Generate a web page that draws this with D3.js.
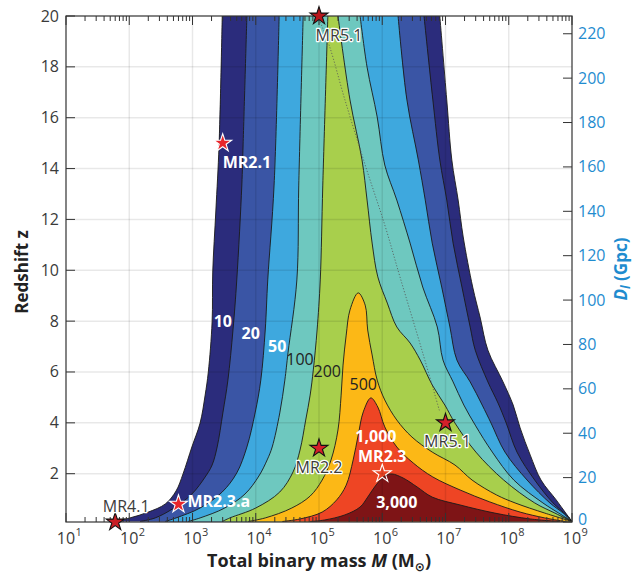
<!DOCTYPE html>
<html><head><meta charset="utf-8">
<script src="https://cdn.jsdelivr.net/npm/d3@7"></script>
<style>
body{margin:0;background:#fff;}
text{font-family:"Open Sans","Liberation Sans",sans-serif;}
</style></head>
<body><svg id="c" width="633" height="573"></svg>
<script>
// ---------- data ----------
const massDecades = [1,2,3,4,5,6,7,8,9];           // exponents of 10 (M in solar masses)
const zTicks = [2,4,6,8,10,12,14,16,18,20];
const dTicks = [0,20,40,60,80,100,120,140,160,180,200,220];
const levels = [10,20,50,100,200,500,1000,3000];
const levelColors = ["#2b2c7c","#3a55a5","#3ea8de","#6ec8bf","#a8cf4c","#fcb816","#ee4524","#7e1416"];

// contour boundaries as [log10 M, z]
const c10Left  = [[1.73,0.12],[2.01,0.26],[2.30,0.49],[2.57,0.81],[2.74,1.32],[2.85,1.99],[2.99,3.05],[3.12,3.99],[3.20,5.09],[3.25,6.00],[3.31,7.97],[3.32,9.93],[3.37,12.37],[3.42,14.93],[3.47,20]];
const c10Right = [[6.91,20],[7.02,16.70],[7.10,14.34],[7.20,12.76],[7.28,11.31],[7.43,9.34],[7.55,8.12],[7.67,6.86],[7.91,5.61],[8.07,4.70],[8.18,3.80],[8.34,2.73],[8.51,1.75],[8.75,0.97],[8.89,0.49],[9.00,0.12]];
const c20Left  = [[2.17,0.12],[2.41,0.26],[2.68,0.61],[2.99,1.20],[3.20,1.87],[3.31,2.34],[3.39,3.05],[3.48,4.39],[3.56,5.68],[3.64,7.65],[3.70,9.62],[3.78,13.35],[3.80,14.93],[3.86,20]];
const c20Right = [[6.66,20],[6.80,16.70],[6.91,14.34],[7.02,12.76],[7.12,11.07],[7.26,9.34],[7.39,7.77],[7.47,6.86],[7.67,5.61],[7.83,4.78],[7.96,3.99],[8.13,2.85],[8.41,1.75],[8.70,0.85],[8.91,0.38],[9.00,0.12]];
const c50Left  = [[2.57,0.12],[2.74,0.26],[3.12,0.65],[3.47,1.28],[3.70,2.03],[3.86,3.05],[3.99,4.39],[4.08,5.68],[4.15,7.65],[4.19,9.62],[4.29,13.35],[4.37,20]];
const c50Right = [[6.25,20],[6.39,16.70],[6.57,14.34],[6.68,12.76],[6.79,11.07],[6.94,9.34],[7.07,7.77],[7.18,6.47],[7.39,5.61],[7.58,4.70],[7.72,3.99],[7.94,2.85],[8.29,1.75],[8.65,0.85],[8.86,0.45],[9.00,0.12]];
const c100Left  = [[2.93,0.12],[3.12,0.26],[3.51,0.65],[3.83,1.20],[4.05,1.91],[4.18,2.54],[4.26,3.05],[4.38,4.39],[4.46,5.68],[4.51,6.75],[4.65,9.62],[4.68,13.35],[4.75,20]];
const c100Right = [[5.65,20],[5.76,17.99],[5.92,16.03],[6.04,14.14],[6.23,12.76],[6.44,11.07],[6.64,9.34],[6.87,7.77],[6.96,6.47],[7.12,5.61],[7.29,4.70],[7.47,3.91],[7.74,2.85],[8.08,1.75],[8.54,0.85],[8.79,0.45],[9.00,0.12]];
const c200Left  = [[3.47,0.12],[3.59,0.26],[4.00,0.65],[4.38,1.28],[4.59,2.07],[4.70,2.93],[4.79,4.11],[4.86,5.09],[4.91,6.08],[4.97,7.65],[5.02,9.62],[5.06,13.35],[5.14,20]];
const c200Right = [[5.30,20],[5.49,16.70],[5.68,14.34],[5.76,12.76],[5.84,11.07],[5.93,9.74],[6.08,8.71],[6.23,7.77],[6.44,7.14],[6.60,6.47],[6.79,5.49],[6.99,4.70],[7.15,3.99],[7.48,2.85],[7.92,1.75],[8.41,0.85],[8.73,0.45],[9.00,0.12]];
const c500  = [[3.88,0.12],[4.15,0.26],[4.57,0.65],[4.86,1.12],[5.05,1.75],[5.19,2.54],[5.30,3.72],[5.35,5.09],[5.38,6.27],[5.43,7.45],[5.49,8.44],[5.62,9.11],[5.73,8.63],[5.77,7.65],[5.84,6.67],[5.92,5.68],[6.04,4.90],[6.23,4.11],[6.47,3.44],[6.79,2.85],[7.15,2.34],[7.42,1.75],[7.81,1.16],[8.10,0.85],[8.57,0.45],[9.00,0.12]];
const c1000 = [[4.42,0.12],[4.70,0.22],[5.05,0.49],[5.28,0.97],[5.43,1.55],[5.54,2.54],[5.62,3.52],[5.70,4.43],[5.82,4.98],[5.93,4.62],[6.04,3.84],[6.23,3.05],[6.49,2.42],[6.80,1.87],[7.23,1.36],[7.70,0.89],[8.18,0.49],[8.57,0.26],[8.89,0.12]];
const c3000 = [[4.86,0.12],[5.09,0.18],[5.41,0.38],[5.65,0.69],[5.77,1.08],[5.90,1.55],[6.04,1.91],[6.15,1.99],[6.33,1.83],[6.55,1.48],[6.79,1.08],[7.23,0.77],[7.78,0.45],[8.34,0.22],[8.81,0.12]];

// MR5.1 trajectory (dotted)
const trackLogM = [5.02,5.17,5.41,5.73,6.04,6.28,6.64,6.91];
const trackZ    = [19.76,18.78,16.70,14.14,11.78,9.74,6.75,4.43];

// science-requirement markers
const mrNames = ["MR5.1","MR2.1","MR2.2","MR5.1","MR2.3","MR2.3.a","MR4.1"];
const mrMass  = [1e5, 3e3, 1e5, 1e7, 1e6, 600, 60];
const mrZ     = [20, 15, 3, 4, 2, 0.8, 0.1];

// contour labels
const cLabelText = ["10","20","50","100","200","500","1,000","3,000"];
const cLabelLogM = [3.48,3.92,4.34,4.70,5.13,5.70,5.90,6.23];
const cLabelZ    = [7.77,7.30,6.79,6.27,5.80,5.29,3.25,0.65];

// ---------- layout ----------
const L=66, R=572, T=16, B=522;
const svg = d3.select("#c");
const x = d3.scaleLog().domain([10,1e9]).range([L,R]);
const y = d3.scaleLinear().domain([0.1,20]).range([B,T]);
const yR = d3.scaleLinear().domain([0,228]).range([B,T]);

svg.append("defs").append("clipPath").attr("id","clip")
  .append("rect").attr("x",L).attr("y",T).attr("width",R-L).attr("height",B-T);

const line = d3.line().x(d=>x(Math.pow(10,d[0]))).y(d=>y(d[1])).curve(d3.curveCatmullRom.alpha(0.5));

const bands = [
  {open:true, a:c10Left, b:c10Right},
  {open:true, a:c20Left, b:c20Right},
  {open:true, a:c50Left, b:c50Right},
  {open:true, a:c100Left, b:c100Right},
  {open:true, a:c200Left, b:c200Right},
  {open:false, a:c500},
  {open:false, a:c1000},
  {open:false, a:c3000}
];

const gF = svg.append("g").attr("clip-path","url(#clip)");
bands.forEach((bd,i)=>{
  const d = bd.open ? line(bd.a) + line(bd.b).replace(/^M/,"L") + "Z" : line(bd.a) + "Z";
  gF.append("path").attr("d",d).attr("fill",levelColors[i]);
});

// gridlines (over the fills, translucent)
const gG = svg.append("g");
[2,3,4,5,6,7,8].forEach(e=>{
  gG.append("line").attr("x1",x(Math.pow(10,e))).attr("x2",x(Math.pow(10,e)))
    .attr("y1",T).attr("y2",B).attr("stroke","#000").attr("stroke-opacity",0.09).attr("stroke-width",1.5);
});
zTicks.slice(0,-1).forEach(z=>{
  gG.append("line").attr("x1",L).attr("x2",R).attr("y1",y(z)).attr("y2",y(z))
    .attr("stroke","#000").attr("stroke-opacity",0.09).attr("stroke-width",1.5);
});

// contour lines
const gL = svg.append("g").attr("clip-path","url(#clip)").attr("fill","none").attr("stroke","#1a1a1a").attr("stroke-width",0.9);
bands.forEach(bd=>{
  gL.append("path").attr("d",line(bd.a));
  if(bd.open) gL.append("path").attr("d",line(bd.b));
});

// dotted trajectory
svg.append("path")
  .attr("d", d3.line().x((d,i)=>x(Math.pow(10,trackLogM[i]))).y((d,i)=>y(trackZ[i])).curve(d3.curveCatmullRom)(trackLogM))
  .attr("fill","none").attr("stroke","#555").attr("stroke-width",0.8).attr("stroke-dasharray","1.2,1.8");

// axes box
const axisCol = "#333";
svg.append("rect").attr("x",L).attr("y",T).attr("width",R-L).attr("height",B-T)
  .attr("fill","none").attr("stroke",axisCol).attr("stroke-width",1.2);

const gT = svg.append("g").attr("stroke",axisCol).attr("stroke-width",1);
massDecades.forEach(e=>{
  const xv = x(Math.pow(10,e));
  gT.append("line").attr("x1",xv).attr("x2",xv).attr("y1",B).attr("y2",B-9);
  gT.append("line").attr("x1",xv).attr("x2",xv).attr("y1",T).attr("y2",T+9);
  if(e<9){
    for(let k=2;k<=9;k++){
      const xm = x(k*Math.pow(10,e));
      gT.append("line").attr("x1",xm).attr("x2",xm).attr("y1",B).attr("y2",B-5);
      gT.append("line").attr("x1",xm).attr("x2",xm).attr("y1",T).attr("y2",T+5);
    }
  }
});
zTicks.forEach(z=>{
  gT.append("line").attr("x1",L).attr("x2",L+9).attr("y1",y(z)).attr("y2",y(z));
});
dTicks.forEach(d=>{
  gT.append("line").attr("x1",R).attr("x2",R-9).attr("y1",yR(d)).attr("y2",yR(d));
});

// tick labels
const tickCol = "#3a3a3a";
zTicks.forEach(z=>{
  svg.append("text").attr("x",L-7).attr("y",y(z)+5.5).attr("text-anchor","end")
    .attr("font-size",16).attr("fill",tickCol).text(z);
});
dTicks.forEach(d=>{
  svg.append("text").attr("x",R+6).attr("y",yR(d)+(d===0?3:5.5)).attr("text-anchor","start")
    .attr("font-size",16).attr("fill","#1f8ccf").text(d);
});
massDecades.forEach(e=>{
  const xv = x(Math.pow(10,e));
  svg.append("text").attr("x",xv).attr("y",544).attr("text-anchor","middle")
    .attr("font-size",16).attr("fill",tickCol).text("10");
  svg.append("text").attr("x",xv+9.5).attr("y",536).attr("text-anchor","start")
    .attr("font-size",11).attr("fill",tickCol).text(e);
});

// axis titles
const xt = svg.append("text").attr("x",319).attr("y",567).attr("text-anchor","middle")
  .attr("font-size",18).attr("font-weight","bold").attr("fill","#222");
xt.append("tspan").text("Total binary mass ");
xt.append("tspan").attr("font-style","italic").text("M");
xt.append("tspan").text(" (M");
xt.append("tspan").attr("font-size",12).attr("dy",4).attr("font-family","DejaVu Sans").text("\u2299");
xt.append("tspan").attr("dy",-4).text(")");

svg.append("text").attr("transform","translate(28,272) rotate(-90)").attr("text-anchor","middle")
  .attr("font-size",17).attr("font-weight","bold").attr("fill","#222").text("Redshift z");

const rt = svg.append("text").attr("transform","translate(627,269) rotate(-90)").attr("text-anchor","middle")
  .attr("font-size",17).attr("font-weight","bold").attr("fill","#1f8ccf");
rt.append("tspan").attr("font-style","italic").text("D");
rt.append("tspan").attr("font-size",12).attr("dy",3).attr("font-style","italic").text("l");
rt.append("tspan").attr("dy",-3).text(" (Gpc)");

// contour labels
const cLabelWhite = [true,true,true,false,false,false,true,true];
cLabelText.forEach((t,i)=>{
  svg.append("text").attr("x",x(Math.pow(10,cLabelLogM[i]))).attr("y",y(cLabelZ[i]))
    .attr("text-anchor","middle").attr("font-size",16)
    .attr("font-weight",cLabelWhite[i]?"bold":"normal")
    .attr("fill",cLabelWhite[i]?"#fff":"#222").text(t);
});

// markers
const starStyle = [
  {fill:"#b8161c",stroke:"#111"},
  {fill:"#e8262b",stroke:"#fff"},
  {fill:"#d4202a",stroke:"#111"},
  {fill:"#d4202a",stroke:"#111"},
  {fill:"none",stroke:"#fff"},
  {fill:"#e8262b",stroke:"#fff"},
  {fill:"#c81e25",stroke:"#111"}
];
const labStyle = [
  {dx:20,dy:25,anchor:"middle",white:false},
  {dx:0,dy:25,anchor:"start",white:true},
  {dx:0,dy:25,anchor:"middle",white:false},
  {dx:2,dy:24,anchor:"middle",white:false},
  {dx:0,dy:-12,anchor:"middle",white:true},
  {dx:9,dy:3,anchor:"start",white:true},
  {dx:11,dy:-10,anchor:"middle",white:false}
];
const star = d3.symbol().type(d3.symbolStar).size(100);
mrNames.forEach((n,i)=>{
  const px = x(mrMass[i]), py = y(mrZ[i]);
  svg.append("path").attr("d",star()).attr("transform",`translate(${px},${py})`)
    .attr("fill",starStyle[i].fill).attr("stroke",starStyle[i].stroke).attr("stroke-width",1.1);
});
mrNames.forEach((n,i)=>{
  const px = x(mrMass[i]), py = y(mrZ[i]);
  const s = labStyle[i];
  const t = svg.append("text").attr("x",px+s.dx).attr("y",py+s.dy).attr("text-anchor",s.anchor)
    .attr("font-size",16).text(n);
  if(s.white){ t.attr("fill","#fff").attr("font-weight","bold"); }
  else { t.attr("fill","#3c3c3c").attr("stroke","#fff").attr("stroke-width",2.5)
          .attr("paint-order","stroke").attr("stroke-linejoin","round"); }
});
</script></body></html>
